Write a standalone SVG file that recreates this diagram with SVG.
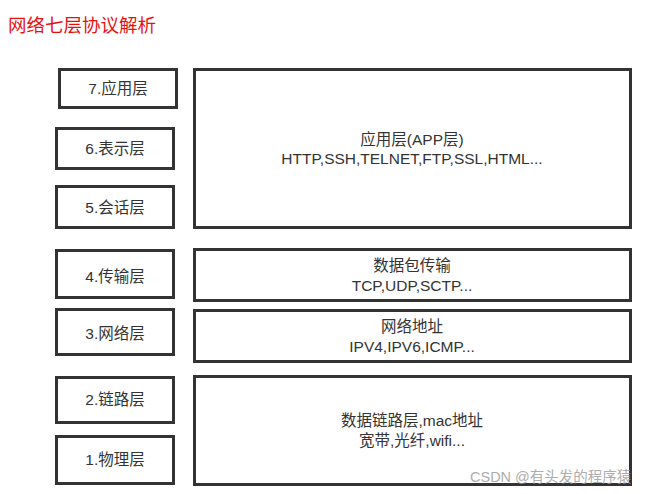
<svg xmlns="http://www.w3.org/2000/svg" width="650" height="494" viewBox="0 0 650 494">
<style>
.box{fill:#fff;stroke:#333;stroke-width:3}
.t{font-family:"Liberation Sans","Noto Sans CJK SC",sans-serif;font-size:15.5px;fill:#333;text-anchor:middle}
.title{font-family:"Liberation Sans","Noto Sans CJK SC",sans-serif;font-size:18.5px;fill:#e8100f}
.wm{font-family:"Liberation Sans","Noto Sans CJK SC",sans-serif;font-size:14.5px;fill:#999;opacity:0.8}
</style>
<rect width="650" height="494" fill="#fff"/>
<text class="title" x="8" y="32">网络七层协议解析</text>
<g id="l7"><rect class="box" x="59.5" y="69.5" width="117" height="38"/><text class="t" x="118" y="94">7.应用层</text></g>
<g id="l6"><rect class="box" x="56.5" y="128.5" width="117" height="40"/><text class="t" x="115" y="154">6.表示层</text></g>
<g id="l5"><rect class="box" x="56.5" y="186.5" width="117" height="41"/><text class="t" x="115" y="213">5.会话层</text></g>
<g id="app"><rect class="box" x="194.5" y="69.5" width="436" height="158"/><text class="t" x="412" y="145">应用层(APP层)</text><text class="t" x="412" y="164">HTTP,SSH,TELNET,FTP,SSL,HTML...</text></g>
<g id="l4"><rect class="box" x="56.5" y="250.5" width="117" height="47"/><text class="t" x="115" y="282">4.传输层</text></g>
<g id="trans"><rect class="box" x="194.5" y="249.5" width="436" height="51"/><text class="t" x="412" y="271">数据包传输</text><text class="t" x="412" y="291">TCP,UDP,SCTP...</text></g>
<g id="l3"><rect class="box" x="56.5" y="309.5" width="117" height="45"/><text class="t" x="115" y="339">3.网络层</text></g>
<g id="net"><rect class="box" x="194.5" y="310.5" width="436" height="51"/><text class="t" x="412" y="332">网络地址</text><text class="t" x="412" y="352">IPV4,IPV6,ICMP...</text></g>
<g id="l2"><rect class="box" x="56.5" y="377.5" width="117" height="45"/><text class="t" x="115" y="405">2.链路层</text></g>
<g id="l1"><rect class="box" x="56.5" y="436.5" width="117" height="47"/><text class="t" x="115" y="465">1.物理层</text></g>
<g id="link"><rect class="box" x="194.5" y="376.5" width="436" height="108"/><text class="t" x="412" y="426">数据链路层,mac地址</text><text class="t" x="412" y="446">宽带,光纤,wifi...</text></g>
<text class="wm" x="470" y="482">CSDN @有头发的程序猿</text>
</svg>
